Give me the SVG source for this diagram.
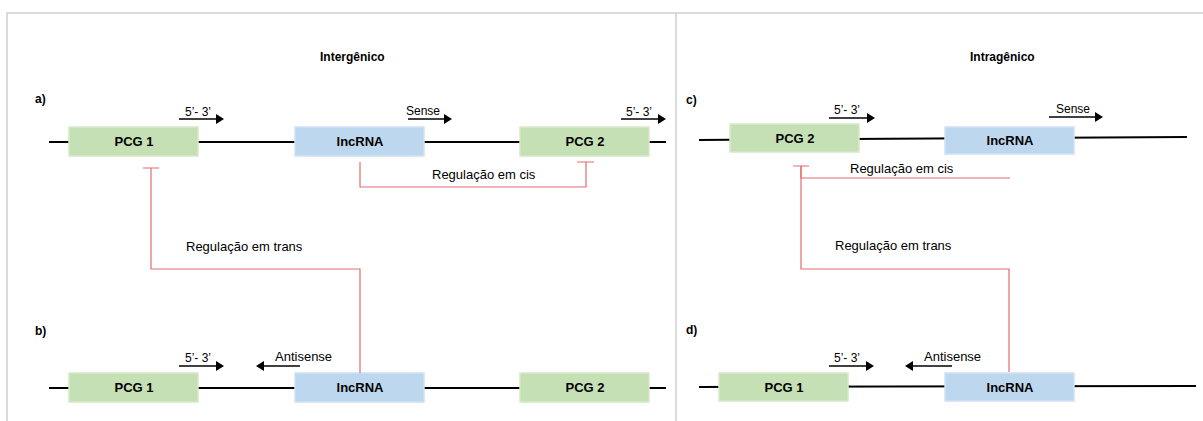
<svg xmlns="http://www.w3.org/2000/svg" width="1203" height="421" viewBox="0 0 1203 421">
<defs>
<style>
text{font-family:"Liberation Sans",Arial,sans-serif;fill:#000}
.title{font-size:12px;font-weight:bold}
.lbl{font-size:12px;font-weight:bold}
.box-t{font-size:13px;font-weight:bold;text-anchor:middle}
.small{font-size:12px}
.reg-t{font-size:13px}
.pcg{fill:#c5e0b4;stroke:#d6e9c9;stroke-width:1.5}
.lnc{fill:#bdd7ee;stroke:#cfe2f3;stroke-width:1.5}
.dna{stroke:#000;stroke-width:2;fill:none}
.arr{stroke:#000;stroke-width:1.5;fill:none}
.reg{stroke:#e46c6f;stroke-width:1.2;fill:none}
.frame{stroke:#d0d0d0;stroke-width:1.5;fill:none}
</style>
<marker id="ah" viewBox="0 0 8 10" refX="0" refY="5" markerWidth="8" markerHeight="10" markerUnits="userSpaceOnUse" orient="auto">
<path d="M0,0 L8,5 L0,10 z" fill="#000"/>
</marker>
</defs>
<rect width="1203" height="421" fill="#fff"/>
<g id="frame">
<path class="frame" d="M7,421 V13 H1203 M676,13 V421"/>
</g>
<text class="title" x="320" y="61">Intergênico</text>
<text class="title" x="970" y="61">Intragênico</text>
<text class="lbl" x="35" y="103">a)</text>
<text class="lbl" x="35" y="335">b)</text>
<text class="lbl" x="686" y="104">c)</text>
<text class="lbl" x="686" y="334">d)</text>
<g id="dna-lines">
<line class="dna" x1="49" y1="142" x2="666" y2="142"/>
<line class="dna" x1="49" y1="388" x2="666" y2="388"/>
<line class="dna" x1="699" y1="140" x2="1187" y2="137"/>
<line class="dna" x1="699" y1="387" x2="1196" y2="386"/>
</g>
<g id="a-pcg1"><rect class="pcg" x="69" y="127" width="129" height="29"/><text class="box-t" x="134" y="146">PCG 1</text></g>
<g id="a-lncrna"><rect class="lnc" x="295" y="127" width="129" height="29"/><text class="box-t" x="360" y="146">lncRNA</text></g>
<g id="a-pcg2"><rect class="pcg" x="520" y="127" width="129" height="29"/><text class="box-t" x="585" y="146">PCG 2</text></g>
<g id="b-pcg1"><rect class="pcg" x="69" y="373" width="129" height="29"/><text class="box-t" x="134" y="392">PCG 1</text></g>
<g id="b-lncrna"><rect class="lnc" x="295" y="373" width="129" height="29"/><text class="box-t" x="360" y="392">lncRNA</text></g>
<g id="b-pcg2"><rect class="pcg" x="520" y="373" width="129" height="29"/><text class="box-t" x="585" y="392">PCG 2</text></g>
<g id="c-pcg2"><rect class="pcg" x="730" y="124" width="129" height="28"/><text class="box-t" x="795" y="143">PCG 2</text></g>
<g id="c-lncrna"><rect class="lnc" x="945" y="127" width="129" height="27"/><text class="box-t" x="1010" y="145">lncRNA</text></g>
<g id="d-pcg1"><rect class="pcg" x="719" y="373" width="129" height="28"/><text class="box-t" x="784" y="392">PCG 1</text></g>
<g id="d-lncrna"><rect class="lnc" x="945" y="373" width="129" height="28"/><text class="box-t" x="1010" y="392">lncRNA</text></g>
<g id="direction-arrows">
<line class="arr" x1="179" y1="119" x2="216" y2="119" marker-end="url(#ah)"/>
<line class="arr" x1="408" y1="119" x2="444" y2="119" marker-end="url(#ah)"/>
<line class="arr" x1="621" y1="119" x2="658" y2="119" marker-end="url(#ah)"/>
<line class="arr" x1="179" y1="366" x2="216" y2="366" marker-end="url(#ah)"/>
<line class="arr" x1="300" y1="366" x2="264" y2="366" marker-end="url(#ah)"/>
<line class="arr" x1="829" y1="118" x2="867" y2="118" marker-end="url(#ah)"/>
<line class="arr" x1="1049" y1="117" x2="1095" y2="117" marker-end="url(#ah)"/>
<line class="arr" x1="829" y1="366" x2="866" y2="366" marker-end="url(#ah)"/>
<line class="arr" x1="952" y1="366" x2="913" y2="366" marker-end="url(#ah)"/>
</g>
<g id="arrow-labels">
<text class="small" x="185" y="116">5’- 3’</text>
<text class="small" x="406" y="115">Sense</text>
<text class="small" x="626" y="116">5’- 3’</text>
<text class="small" x="185" y="362">5’- 3’</text>
<text class="reg-t" x="275" y="361">Antisense</text>
<text class="small" x="834" y="114">5’- 3’</text>
<text class="small" x="1056" y="113">Sense</text>
<text class="small" x="834" y="362">5’- 3’</text>
<text class="reg-t" x="924" y="361">Antisense</text>
</g>
<g id="connectors">
<path class="reg" d="M360,162 V187 H586 V162 M577,162 H594"/>
<path class="reg" d="M360,373 V269 H151 V168 M143,168 H159"/>
<path class="reg" d="M1010,178 H801 V166 M793,166 H809"/>
<path class="reg" d="M1009,372 V269 H801 V166"/>
</g>
<g id="connector-labels">
<text class="reg-t" x="432" y="179">Regulação em cis</text>
<text class="reg-t" x="186" y="251">Regulação em trans</text>
<text class="reg-t" x="850" y="173">Regulação em cis</text>
<text class="reg-t" x="835" y="250">Regulação em trans</text>
</g>
</svg>
